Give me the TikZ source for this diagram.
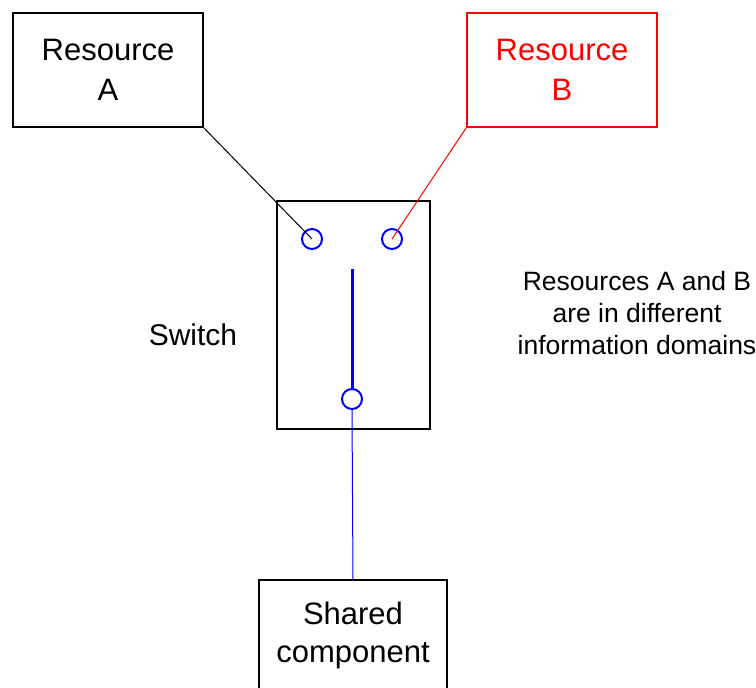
\documentclass[tikz,border=0pt]{standalone}
\usepackage{fontspec}
\setmainfont{Liberation Sans}
\begin{document}
\begin{tikzpicture}[x=1pt,y=-1pt,
  box/.style={draw=black,line width=1.5pt,inner sep=0pt,align=center,
    font=\fontsize{31}{40}\selectfont},
  port/.style={circle,draw=blue,line width=2pt,minimum size=20pt,inner sep=0pt},
  wire/.style={line width=1pt}]
\useasboundingbox (0,0) rectangle (756,688);
\clip (0,0) rectangle (756,688);
\node[box,minimum width=190pt,minimum height=114pt] (resA) at (108,70) {Resource\\A};
\node[box,draw=red,text=red,minimum width=190pt,minimum height=114pt] (resB) at (562,70) {Resource\\B};
\node[draw=black,line width=1.5pt,minimum width=153pt,minimum height=228pt,inner sep=0pt] (switch) at (353.5,315) {};
\node[port] (pA) at (312,239) {};
\node[port] (pB) at (392,239) {};
\node[port] (pS) at (352,399) {};
\coordinate (lever) at (352,269);
\node[box,font=\fontsize{31}{38}\selectfont,minimum width=188pt,minimum height=111pt] (shared) at (353,635.5) {Shared\\component};
\node[font=\fontsize{30}{36}\selectfont,anchor=base] (swlabel) at (193,345) {Switch};
\node[font=\fontsize{26.5}{32}\selectfont,align=center] (note) at (637,313) {Resources A and B\\are in different\\information domains};
\draw[wire,black] (resA.south east) -- (pA.center);
\draw[wire,red] (resB.south west) -- (pB.center);
\draw[blue,line width=3pt] (lever) -- (pS.north);
\draw[wire,blue] (pS.south) -- (shared.north);
\end{tikzpicture}
\end{document}
